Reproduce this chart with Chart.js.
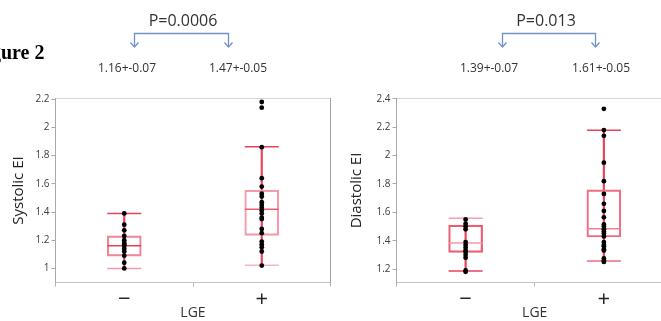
<!DOCTYPE html>
<html><head><meta charset="utf-8">
<script src="https://cdn.jsdelivr.net/npm/chart.js@4"></script>
<style>
html,body{margin:0;padding:0;background:#fff}
body{position:relative;width:661px;height:321px;overflow:hidden;font-family:"Open Sans",sans-serif}
canvas{position:absolute;top:0}
.t{position:absolute;white-space:nowrap;transform:translate(-50%,-50%);line-height:1}
svg{position:absolute;left:0;top:0}
</style></head><body>
<canvas id="c1" width="333" height="321" style="left:0"></canvas>
<canvas id="c2" width="345" height="321" style="left:330px"></canvas>
<svg width="661" height="80" viewBox="0 0 661 80">
  <g fill="none" stroke="#7391c7" stroke-width="1.3">
    <path d="M134.5 47 V33.5 H228.5 V47"/>
    <path d="M130.5 42.5 L134.5 47 L138.5 42.5"/>
    <path d="M224.5 42.5 L228.5 47 L232.5 42.5"/>
    <path d="M502.5 47 V33.5 H595.5 V47"/>
    <path d="M498.5 42.5 L502.5 47 L506.5 42.5"/>
    <path d="M591.5 42.5 L595.5 47 L599.5 42.5"/>
  </g>
</svg>
<div class="t" style="left:183px;top:20px;font-size:16px;color:#333">P=0.0006</div>
<div class="t" style="left:546px;top:20px;font-size:16px;color:#333">P=0.013</div>
<div class="t" style="left:127px;top:68px;font-size:12px;color:#333">1.16+-0.07</div>
<div class="t" style="left:238px;top:68px;font-size:12px;color:#333">1.47+-0.05</div>
<div class="t" style="left:489px;top:68px;font-size:12px;color:#333">1.39+-0.07</div>
<div class="t" style="left:601px;top:68px;font-size:12px;color:#333">1.61+-0.05</div>
<div style="position:absolute;right:616.5px;top:52px;transform:translateY(-50%);font-family:'Liberation Serif',serif;font-weight:bold;font-size:20px;color:#000;white-space:nowrap;line-height:1">Figure 2</div>
<script>
// ---- data ----
const categories = ['\u2212', '+'];
const sysTicks = [1, 1.2, 1.4, 1.6, 1.8, 2, 2.2];
const diaTicks = [1.2, 1.4, 1.6, 1.8, 2, 2.2, 2.4];

const sysNeg = [1.39, 1.31, 1.27, 1.23, 1.20, 1.18, 1.17, 1.16, 1.14, 1.12, 1.09, 1.04, 1.00];
const sysPos = [2.18, 2.14, 1.86, 1.64, 1.58, 1.53, 1.51, 1.47, 1.45, 1.43, 1.41, 1.39, 1.36, 1.35, 1.28, 1.25, 1.19, 1.17, 1.15, 1.12, 1.02];
const sysLow = [1.00, 1.023];
const sysQ1 = [1.087, 1.234];
const sysMedian = [1.16, 1.42];
const sysQ3 = [1.231, 1.555];
const sysHigh = [1.39, 1.862];

const diaNeg = [1.55, 1.52, 1.50, 1.48, 1.39, 1.37, 1.35, 1.33, 1.32, 1.30, 1.28, 1.19, 1.18];
const diaPos = [2.33, 2.18, 2.14, 1.95, 1.82, 1.73, 1.66, 1.61, 1.565, 1.515, 1.50, 1.48, 1.465, 1.45, 1.43, 1.39, 1.37, 1.36, 1.34, 1.33, 1.275, 1.26, 1.25];
const diaLow = [1.186, 1.256];
const diaQ1 = [1.318, 1.426];
const diaMedian = [1.383, 1.484];
const diaQ3 = [1.51, 1.758];
const diaHigh = [1.558, 2.179];

// ---- styles ----
const RED = '#e8425a';
const PINK = '#f49aab';
const AX = '#a9a9a9';

function makeChart(id, o) {
  const dots = [];
  o.groups.forEach((vals, i) => vals.forEach(v => dots.push({x: categories[i], y: v})));
  const common = {xAxisID: 'x', yAxisID: 'y'};
  const capDs = (data, colors) => Object.assign({
    type: 'line', showLine: false, data, pointStyle: 'line', pointRadius: 17,
    pointBorderColor: colors, pointBorderWidth: 1.5, pointHoverRadius: 17, order: 3
  }, common);
  const scales = {
    x: {
      type: 'category', labels: categories, position: 'bottom', offset: true,
      grid: {display: true, drawOnChartArea: false, offset: true, tickLength: 4, color: '#b5b5b5'},
      border: {color: '#c4c4c4'},
      ticks: {font: {family: 'Open Sans', size: 22}, color: '#222', padding: 0},
      title: {display: true, text: 'LGE', font: {family: 'Open Sans', size: 14}, color: '#333', padding: {top: 0, bottom: 0}},
      afterFit: s => { s.height = 38.5; }
    },
    xTop: {
      type: 'category', labels: categories, position: 'top', offset: true,
      grid: {display: false}, ticks: {display: false},
      border: {display: true, color: '#d6d6d6'},
      afterFit: s => { s.height = 0; }
    },
    y: {
      type: 'linear', position: 'left', min: o.min, max: o.max,
      afterBuildTicks: s => { s.ticks = o.ticks.map(v => ({value: v})); },
      grid: {drawOnChartArea: false, tickLength: 4, color: AX},
      border: {color: AX},
      ticks: {font: {family: 'Open Sans', size: 10}, color: '#3c3c3c', padding: 2,
        callback: v => String(+(+v).toFixed(1))},
      title: {display: true, text: o.title, font: {family: 'Open Sans', size: 15}, color: '#222', padding: {top: o.titlePad, bottom: 0}},
      afterFit: s => { s.width = o.yWidth; }
    }
  };
  if (o.rightBorder) {
    scales.yRight = {
      type: 'linear', position: 'right', min: o.min, max: o.max,
      grid: {display: false}, ticks: {display: false},
      border: {display: true, color: '#a4a4a4'},
      afterFit: s => { s.width = 0; }
    };
  }
  return new Chart(document.getElementById(id), {
    type: 'bar',
    data: {
      labels: categories,
      datasets: [
        Object.assign({type: 'line', showLine: false, data: dots, pointRadius: 2.4, pointHoverRadius: 2.4,
          pointBackgroundColor: '#000', pointBorderWidth: 0, order: 0}, common),
        capDs(o.median, o.medColors),
        capDs(o.high, o.highColors),
        capDs(o.low, o.lowColors),
        Object.assign({type: 'bar', data: o.q1.map((q, i) => [q, o.q3[i]]), backgroundColor: 'rgba(255,255,255,0)',
          borderColor: o.boxColors, borderWidth: 1.5, borderSkipped: false, barThickness: 34, grouped: false, order: 4}, common),
        Object.assign({type: 'bar', data: o.low.map((l, i) => [l, o.high[i]]), backgroundColor: RED,
          barThickness: 1.5, grouped: false, order: 5}, common)
      ]
    },
    options: {
      responsive: false, animation: false,
      layout: {autoPadding: false, padding: {top: 98.5, right: o.padRight, left: 0, bottom: 0}},
      plugins: {legend: {display: false}, tooltip: {enabled: false}},
      events: [],
      scales
    }
  });
}

makeChart('c1', {
  groups: [sysNeg, sysPos], low: sysLow, q1: sysQ1, median: sysMedian, q3: sysQ3, high: sysHigh,
  min: 0.9, max: 2.205, ticks: sysTicks, title: 'Systolic EI', titlePad: 9.5, yWidth: 55.5, padRight: 2.5,
  rightBorder: true,
  medColors: [RED, '#ec5f73'], highColors: [RED, RED], lowColors: [PINK, '#f7b5c0'], boxColors: ['#f08496', PINK]
});
makeChart('c2', {
  groups: [diaNeg, diaPos], low: diaLow, q1: diaQ1, median: diaMedian, q3: diaQ3, high: diaHigh,
  min: 1.105, max: 2.403, ticks: diaTicks, title: 'Diastolic EI', titlePad: 18, yWidth: 66.5, padRight: 2,
  rightBorder: false,
  medColors: [PINK, '#f17d90'], highColors: ['#f59fb0', RED], lowColors: [RED, '#ef6c80'], boxColors: ['#ec5c71', '#ee6d81']
});
</script>
</body></html>
